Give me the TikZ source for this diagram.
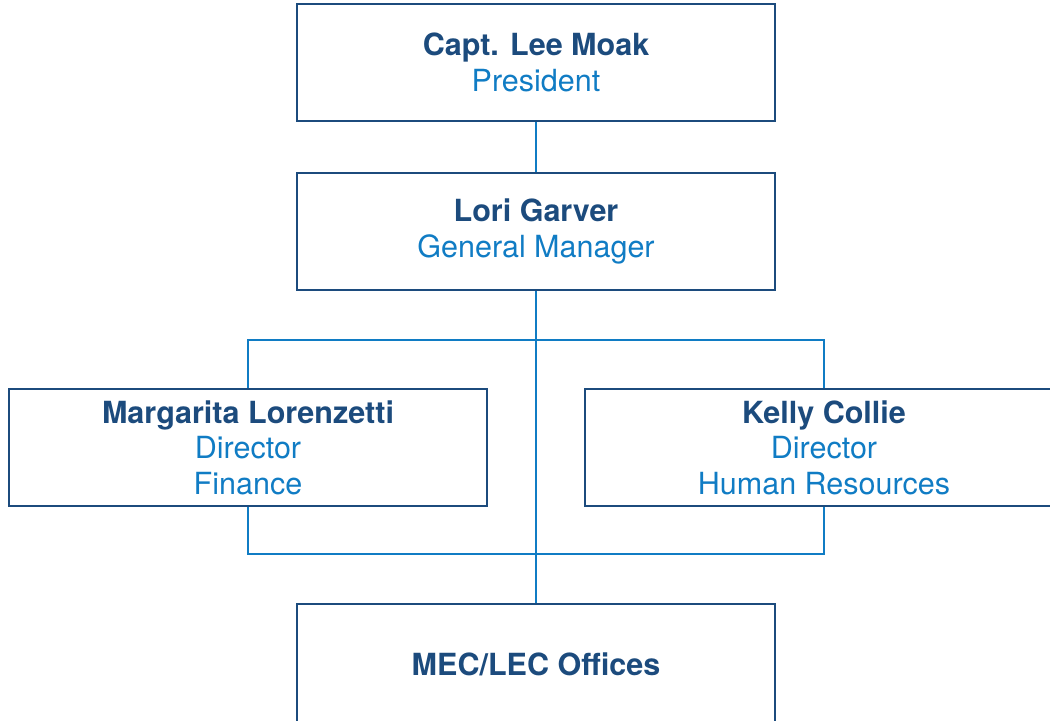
\documentclass[tikz,border=0pt]{standalone}
\usepackage{fontspec}
\setmainfont{TeX Gyre Heros}
\usepackage{xcolor}
\usepackage{tikz}
\usetikzlibrary{positioning}

\definecolor{boxblue}{RGB}{28,75,125}
\definecolor{lineblue}{RGB}{16,124,196}
\newcommand{\who}[1]{\textcolor{boxblue}{\bfseries #1}}
\newcommand{\role}[1]{\textcolor{lineblue}{#1}}
\tikzset{
  post/.style={draw=boxblue, line width=1.8pt, minimum width=11.95cm, minimum height=2.925cm,
    inner sep=0pt, align=center, font=\fontsize{21.7}{25.2}\selectfont},
  link/.style={draw=lineblue, line width=1.4pt}
}

\begin{document}
\begin{tikzpicture}[x=0.025cm, y=-0.025cm]
    \useasboundingbox (0,0) rectangle (1050,721);
    \clip (0,0) rectangle (1050,721);
    \node(P) at (536,62.5) [post] {\who{Capt. Lee Moak}\\\role{President}};
    \node(GM) at (536,231.5) [post] {\who{Lori Garver}\\\role{General Manager}}
      edge [link] (P)
      ;
    \node(FIN) at (248,447.5) [post] {\who{Margarita Lorenzetti}\\\role{Director}\\\role{Finance}};
    \node(HR) at (824,447.5) [post] {\who{Kelly Collie}\\\role{Director}\\\role{Human Resources}};
    \node(MEC) at (536,664) [post, minimum height=3cm] {\who{MEC/LEC Offices}}
      edge [link] (GM)
      ;
    % upper and lower bus lines
    \coordinate(busA) at (536,340);
    \coordinate(busB) at (536,554);
    \draw [link] (FIN.north) |- (busA) -| (HR.north);
    \draw [link] (FIN.south) |- (busB) -| (HR.south);
  \end{tikzpicture}
\end{document}
